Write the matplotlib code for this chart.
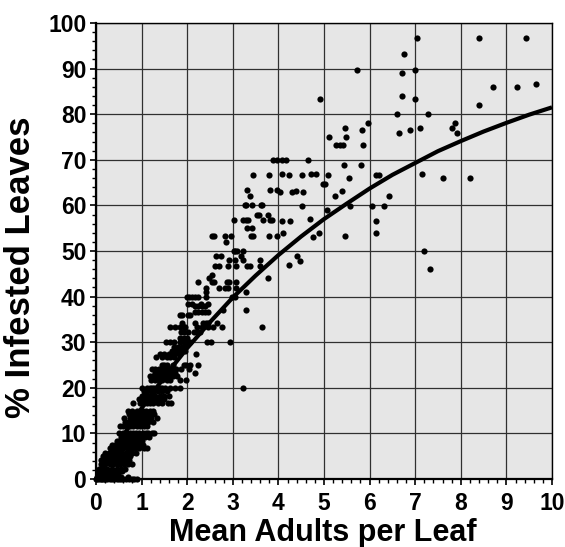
import numpy as np
import matplotlib
matplotlib.use("Agg")
import matplotlib.pyplot as plt
from matplotlib.ticker import MultipleLocator

plt.rcParams['font.family'] = ['Liberation Sans', 'DejaVu Sans']
plt.rcParams['font.weight'] = 'bold'

# dense part of the cloud, read row by row (% infested level -> mean adults)
low_levels = [0, 0.5, 1.1, 1.7, 2.2, 3.3, 4.2, 5.0, 5.8, 6.7, 7.5, 8.3, 9.2, 10, 11.7,
              12.5, 13.3, 14.2, 15.0, 16.7, 17.5, 18.3, 19.2, 20,
              21.7, 22.5, 23.3, 24.2, 25, 26.7, 27.5, 28, 29, 30, 31, 32.3, 33.3, 34.3,
              36, 36.7, 37.1, 38, 38.4,
              40, 41, 41.8, 43.3, 44, 44.7, 46.7, 48, 48.8, 50, 52, 53.3, 55, 56.7,
              58, 60, 62, 63.3, 66.7, 70]
low_x = [
    [0, 0.03, 0.06, 0.1, 0.13, 0.17, 0.2, 0.25, 0.3, 0.35, 0.4, 0.45, 0.5, 0.55, 0.6, 0.65, 0.72, 0.78, 0.84, 0.9],
    [0.02, 0.08, 0.15, 0.22, 0.3, 0.42, 0.55, 0.7],
    [0.05, 0.12, 0.2, 0.28, 0.38, 0.48],
    [0.04, 0.1, 0.18, 0.26, 0.33, 0.42, 0.5, 0.58],
    [0.06, 0.15, 0.25, 0.35, 0.45, 0.55, 0.64],
    [0.1, 0.2, 0.3, 0.38, 0.47, 0.53, 0.62, 0.7, 0.8],
    [0.12, 0.2, 0.28, 0.36, 0.44, 0.5, 0.58, 0.66, 0.72],
    [0.16, 0.25, 0.31, 0.4, 0.45, 0.52, 0.6, 0.68, 0.75],
    [0.2, 0.28, 0.36, 0.43, 0.5, 0.57, 0.65, 0.72, 0.8, 0.88],
    [0.3, 0.38, 0.45, 0.52, 0.6, 0.68, 0.75, 0.8, 0.86, 0.95, 1.05, 1.11],
    [0.35, 0.42, 0.5, 0.58, 0.65, 0.72, 0.8, 0.87, 0.94, 1.02],
    [0.45, 0.52, 0.6, 0.68, 0.75, 0.82, 0.9, 0.97, 1.0],
    [0.55, 0.62, 0.7, 0.78, 0.85, 0.92, 1.0, 1.08, 1.16],
    [0.5, 0.6, 0.67, 0.75, 0.82, 0.88, 0.95, 1.04, 1.1, 1.15, 1.22, 1.28],
    [0.53, 0.6, 0.67, 0.75, 0.82, 0.9, 0.96, 1.05, 1.11],
    [0.63, 0.7, 0.78, 0.86, 0.93, 1.0, 1.07, 1.15, 1.24],
    [0.62, 0.75, 0.82, 0.9, 0.96, 1.02, 1.08, 1.14, 1.2, 1.33],
    [0.72, 0.82, 0.9, 0.98, 1.06, 1.13, 1.2, 1.28],
    [0.7, 0.8, 0.89, 0.96, 1.04, 1.1, 1.18, 1.25],
    [0.82, 0.96, 1.0, 1.05, 1.11, 1.18, 1.26, 1.35, 1.44, 1.58, 1.65],
    [0.95, 1.03, 1.1, 1.17, 1.25, 1.33, 1.42, 1.5],
    [1.0, 1.07, 1.15, 1.22, 1.3, 1.4, 1.49, 1.59],
    [1.05, 1.12, 1.2, 1.28, 1.36, 1.45, 1.55],
    [1.0, 1.11, 1.18, 1.22, 1.28, 1.33, 1.4, 1.44, 1.51, 1.62, 1.73, 1.84, 3.23],
    [1.2, 1.3, 1.38, 1.45, 1.55, 1.62, 1.84, 1.97],
    [1.18, 1.26, 1.34, 1.42, 1.5, 1.6, 1.68, 1.78],
    [1.3, 1.37, 1.45, 1.51, 1.55, 1.62, 1.7, 1.73, 2.17],
    [1.22, 1.3, 1.38, 1.48, 1.58, 1.66, 1.76, 1.86, 2.05],
    [1.44, 1.5, 1.56, 1.68, 1.92, 1.97, 2.06, 2.24],
    [1.32, 1.44, 1.55, 1.62, 1.72],
    [1.4, 1.5, 1.6, 1.72, 1.82, 2.2],
    [1.66, 1.77, 1.84, 1.95],
    [1.72, 1.8, 1.88, 1.96],
    [1.54, 1.62, 1.70, 1.84, 1.92, 1.99, 2.06, 2.43, 2.52, 2.94],
    [1.84, 1.92, 1.99],
    [1.87, 1.94, 2.02, 2.16, 2.21, 2.28],
    [1.62, 1.73, 1.84, 1.92, 1.95, 2.21, 2.32, 2.46, 2.57, 2.76, 3.63],
    [1.88, 2.17, 2.35, 2.41, 2.46, 2.65],
    [1.84, 1.88, 2.02, 2.07],
    [2.17, 2.24, 2.32, 2.39, 2.46],
    [2.78, 3.30],
    [2.17, 2.24, 2.32, 2.39],
    [2.02, 2.1, 2.3, 2.46],
    [1.99, 2.05, 2.11, 2.17, 2.23, 2.41, 2.98, 3.05],
    [2.41, 3.30],
    [2.41, 2.70, 2.83, 2.90, 3.08],
    [2.24, 2.54, 2.59, 2.87, 2.92, 3.07],
    [2.47, 3.78],
    [2.54],
    [2.62, 2.70, 2.90, 3.06, 3.32, 3.38, 3.60],
    [2.92, 3.05, 3.22, 3.60],
    [2.63, 2.74, 3.18],
    [3.03, 3.05, 3.09, 3.23],
    [2.85],
    [2.54, 2.59, 2.82, 2.95, 3.41, 3.45, 3.79, 3.98],
    [3.32, 3.42],
    [3.02, 3.23, 3.28, 3.33, 3.66, 3.82, 3.85],
    [3.54, 3.58, 3.78],
    [3.27, 3.30, 3.43, 3.61, 3.63],
    [3.38],
    [3.32, 3.82, 3.98],
    [3.45, 3.79],
    [3.89, 3.98],
]

# sparse points beyond 4 adults per leaf
high_x = [7.05, 8.39, 9.42, 6.75, 5.72, 6.71, 7.0, 8.71, 9.23, 9.66, 4.92, 6.71, 7.0, 8.39,
          6.61, 7.28, 5.46, 5.96, 5.83, 6.88, 7.11, 7.81, 7.87, 5.11, 5.48, 5.26, 5.35, 5.42,
          5.86, 6.64, 7.92, 4.07, 4.17, 4.66, 5.44, 5.82, 4.07, 4.23, 4.52, 4.72, 4.82, 5.09,
          6.13, 6.21, 7.14, 7.6, 8.2, 4.98, 5.02, 5.55, 4.04, 4.3, 4.38, 4.55, 5.39, 5.25,
          4.52, 5.07, 5.56, 6.06, 6.32, 6.42, 4.07, 4.26, 4.7, 6.13, 4.09, 4.76, 4.9, 5.46,
          6.13, 7.19, 7.32, 4.4, 4.47, 4.24]
high_y = [96.7, 96.7, 96.7, 93.1, 89.8, 89.0, 89.8, 86.0, 86.0, 86.7, 83.3, 83.9, 83.3, 82.0,
          80.0, 80.0, 76.9, 78.0, 76.5, 76.5, 76.9, 76.9, 78.0, 75.0, 75.0, 73.3, 73.3, 73.3,
          73.3, 75.8, 75.8, 70.0, 70.0, 70.0, 68.8, 68.8, 66.8, 66.6, 66.6, 66.8, 66.8, 66.6,
          66.6, 66.6, 66.8, 65.9, 65.9, 64.8, 64.8, 65.9, 62.9, 62.9, 63.2, 62.9, 63.2, 62.0,
          59.8, 58.9, 59.8, 59.8, 59.8, 62.0, 56.5, 56.5, 57.0, 56.5, 53.9, 53.1, 53.9, 53.2,
          53.9, 49.9, 46.0, 48.8, 47.9, 46.9]

# fitted curve
curve_x = [0, 0.5, 1, 1.5, 2, 2.5, 3, 3.5, 4, 4.5, 5, 5.5, 6, 6.5, 7, 7.5, 8, 8.5, 9, 9.5, 10]
curve_y = [0, 8.1, 15.5, 22.4, 28.7, 34.4, 39.8, 44.6, 49.1, 53.2, 57.0, 60.4, 63.7, 66.7,
           69.3, 71.9, 74.1, 76.2, 78.1, 79.9, 81.5]

xs = []
ys = []
for lev, row in zip(low_levels, low_x):
    for v in row:
        xs.append(v)
        ys.append(lev)
xs = np.array(xs + high_x)
ys = np.array(ys + high_y)

fig = plt.figure(figsize=(5.65, 5.47), dpi=100)
ax = fig.add_axes([96/565, 68/547, 456/565, 456/547])
ax.set_facecolor('#e6e6e6')

ax.scatter(xs, ys, s=20, color='black', zorder=3, clip_on=False, linewidths=0)
ax.plot(curve_x, curve_y, color='black', lw=3, zorder=4, solid_capstyle='butt')

ax.set_xlim(0, 10)
ax.set_ylim(0, 100)
ax.xaxis.set_major_locator(MultipleLocator(1))
ax.xaxis.set_minor_locator(MultipleLocator(0.2))
ax.yaxis.set_major_locator(MultipleLocator(10))
ax.yaxis.set_minor_locator(MultipleLocator(2))
ax.grid(True, which='major', color='#303030', lw=0.9, zorder=1)
ax.set_axisbelow(True)

for s in ax.spines.values():
    s.set_color('black')
    s.set_linewidth(1.0)
ax.spines['left'].set_linewidth(1.6)
ax.spines['bottom'].set_linewidth(1.6)

ax.tick_params(axis='both', which='major', direction='out', length=4, width=1.2,
               labelsize=16.5, top=False, right=False)
ax.tick_params(axis='both', which='minor', direction='out', length=3, width=1.0)
ax.tick_params(axis='x', which='major', pad=5)
ax.tick_params(axis='y', which='major', pad=3)
for lab in ax.get_xticklabels() + ax.get_yticklabels():
    lab.set_fontweight('bold')

ax.set_xlabel('Mean Adults per Leaf', fontsize=22, fontweight='bold')
ax.set_ylabel('% Infested Leaves', fontsize=25, fontweight='bold')
ax.xaxis.set_label_coords(0.497, -0.085)
ax.yaxis.set_label_coords(-0.13, 0.465)

fig.savefig('out.png', dpi=100)
